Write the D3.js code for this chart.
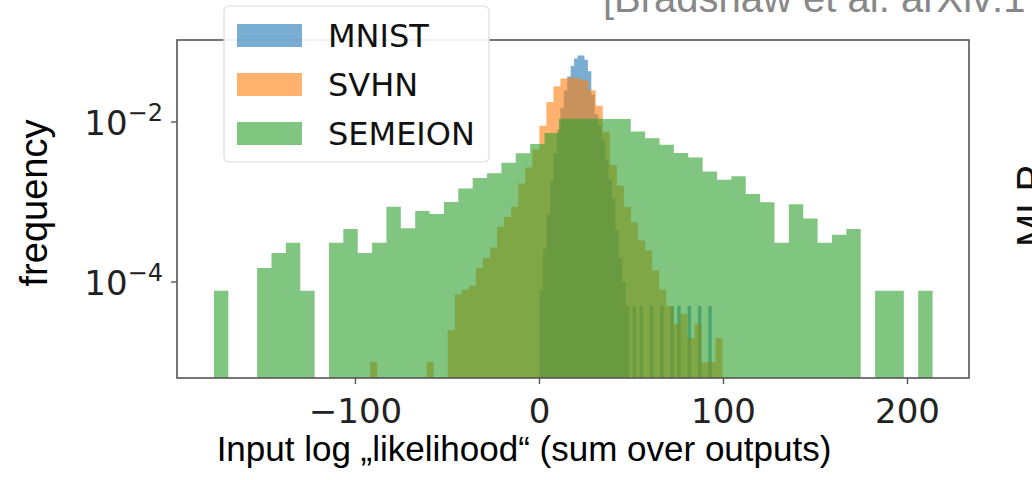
<html>
<head>
	<title>Input log likelihood histogram</title>
	<style type="text/css">
		body{
			margin: 0;
			background-color: #fff;
		}
		svg{
			display: block;
		}
		.tick text{
			font-family: "DejaVu Sans", sans-serif;
			font-size: 34px;
			fill: #222;
		}
		.axisLabel{
			font-family: "Liberation Sans", Arial, sans-serif;
			font-size: 35px;
			fill: #000;
		}
		.legendText{
			font-family: "DejaVu Sans", sans-serif;
			font-size: 32px;
			fill: #111;
		}
	</style>
	<script type="text/javascript" src="https://d3js.org/d3.v7.min.js"></script>
</head>
<body>
<div id="chart"></div>

<script type="text/javascript">
	// series names + colours (matplotlib defaults)
	var seriesNames = ['MNIST', 'SVHN', 'SEMEION'];
	var seriesColors = ['#1f77b4', '#ff7f0e', '#2ca02c'];

	// bin start and bin width, in log-likelihood units
	var mnistStart = 0.4, mnistWidth = 1.87;
	var svhnStart = -91.7, svhnWidth = 3.83;
	var semeionStart = -176.6, semeionWidth = 7.81;

	// frequency per bin
	var mnistFreq = [8e-5, 2.6e-4, 7e-4, 1.8e-3, 4.0e-3, 8.0e-3, 0.015, 0.025, 0.037, 0.050,
		0.062, 0.068, 0.068, 0.060, 0.043, 0.022, 0.0125, 0.009, 0.006, 0.0034,
		0.0019, 0.0011, 4.5e-4, 2.0e-4, 1.0e-4, 5e-5, 0, 5e-5, 0, 5e-5,
		0, 0, 5e-5, 0, 0, 5e-5, 0, 0, 5e-5, 0,
		5e-5, 0, 0, 5e-5, 0, 0, 5e-5, 0, 0, 5e-5];

	var svhnFreq = [1e-5, 0, 0, 0, 0, 0, 0, 0, 1e-5, 0,
		0, 2.5e-5, 7e-5, 8e-5, 9e-5, 1.5e-4, 2.0e-4, 2.7e-4, 4.9e-4, 6.5e-4,
		8.7e-4, 1.7e-3, 2.7e-3, 4.5e-3, 9.0e-3, 0.0178, 0.028, 0.035, 0.036, 0.035,
		0.033, 0.025, 0.016, 7.5e-3, 2.9e-3, 1.6e-3, 8.7e-4, 5.6e-4, 3.3e-4, 2.5e-4,
		1.4e-4, 8e-5, 5e-5, 3e-5, 4e-5, 2e-5, 3e-5, 1e-5, 1e-5, 2e-5];

	var semeionFreq = [7.8e-5, 0, 0, 1.5e-4, 2.3e-4, 3.1e-4, 7.8e-5, 0, 3.1e-4, 4.6e-4,
		2.3e-4, 3.1e-4, 8.7e-4, 4.7e-4, 7.7e-4, 7.1e-4, 1.0e-3, 1.48e-3, 2.0e-3, 2.28e-3,
		3.1e-3, 4.07e-3, 5.3e-3, 7.3e-3, 0.011, 0.011, 0.011, 0.0109, 0.0109, 7.6e-3,
		6.25e-3, 5.2e-3, 4.1e-3, 3.6e-3, 2.4e-3, 1.9e-3, 2.1e-3, 1.26e-3, 9.9e-4, 3.1e-4,
		9.4e-4, 6.2e-4, 3.1e-4, 3.9e-4, 4.6e-4, 0, 7.8e-5, 7.8e-5, 0, 7.8e-5];

	var xTicks = [-100, 0, 100, 200];
	var yTicks = [1e-2, 1e-4];
	var yTickExp = ['\u22122', '\u22124'];

	var width = 1032, height = 480;
	var plotLeft = 177, plotRight = 969, plotTop = 40, plotBottom = 378;

	var svg = d3.select('#chart')
		.append('svg')
		.attr('width', width)
		.attr('height', height);

	var xScale = d3.scaleLinear()
		.domain([-196.7, 233.7])
		.range([plotLeft, plotRight]);
	var yScale = d3.scaleLog()
		.domain([Math.pow(10, -5.2), Math.pow(10, -0.975)])
		.range([plotBottom, plotTop]);

	function toSteps(freq, start, w){
		var pts = freq.map(function(f, i){ return {x: start + i * w, f: f}; });
		pts.push({x: start + freq.length * w, f: freq[freq.length - 1]});
		return pts;
	}

	var floorY = yScale.range()[0];
	var area = d3.area()
		.curve(d3.curveStepAfter)
		.x(function(d){ return xScale(d.x); })
		.y0(floorY)
		.y1(function(d){ return d.f > 0 ? yScale(d.f) : floorY; });

	var series = [
		toSteps(mnistFreq, mnistStart, mnistWidth),
		toSteps(svhnFreq, svhnStart, svhnWidth),
		toSteps(semeionFreq, semeionStart, semeionWidth)
	];

	svg.append('clipPath').attr('id', 'plotClip')
		.append('rect')
		.attr('x', plotLeft).attr('y', plotTop)
		.attr('width', plotRight - plotLeft).attr('height', plotBottom - plotTop);

	svg.append('g')
		.attr('clip-path', 'url(#plotClip)')
		.selectAll('path')
		.data(series)
		.enter()
		.append('path')
		.attr('d', area)
		.attr('fill', function(d, i){ return seriesColors[i]; })
		.attr('fill-opacity', 0.6)
		.attr('stroke', 'none');

	// frame
	svg.append('rect')
		.attr('x', plotLeft).attr('y', plotTop)
		.attr('width', plotRight - plotLeft).attr('height', plotBottom - plotTop)
		.attr('fill', 'none')
		.attr('stroke', '#555')
		.attr('stroke-width', 1.6);

	var xAxis = d3.axisBottom(xScale)
		.tickValues(xTicks)
		.tickSizeInner(6)
		.tickSizeOuter(0)
		.tickPadding(8)
		.tickFormat(function(d){ return d < 0 ? '\u2212' + Math.abs(d) : d; });

	var xAxisG = svg.append('g')
		.attr('transform', 'translate(0,' + plotBottom + ')')
		.call(xAxis);
	xAxisG.select('.domain').remove();
	xAxisG.selectAll('.tick line').attr('stroke', '#555').attr('stroke-width', 1.4);
	xAxisG.selectAll('.tick text').attr('dy', '0.9em');

	var yAxisG = svg.append('g')
		.attr('transform', 'translate(' + plotLeft + ',0)');
	yTicks.forEach(function(t, i){
		var g = yAxisG.append('g').attr('class', 'tick')
			.attr('transform', 'translate(0,' + yScale(t) + ')');
		g.append('line')
			.attr('x1', -6).attr('x2', 0)
			.attr('stroke', '#555').attr('stroke-width', 1.4);
		var txt = g.append('text')
			.attr('x', -14)
			.attr('y', 13)
			.attr('text-anchor', 'end');
		txt.append('tspan').text('10');
		txt.append('tspan')
			.attr('dy', -14)
			.style('font-size', '24px')
			.text(yTickExp[i]);
	});

	svg.append('text')
		.attr('class', 'axisLabel')
		.attr('x', 524)
		.attr('y', 461)
		.attr('text-anchor', 'middle')
		.text('Input log \u201elikelihood\u201c (sum over outputs)');

	svg.append('text')
		.attr('class', 'axisLabel')
		.attr('transform', 'translate(47,203) rotate(-90)')
		.attr('text-anchor', 'middle')
		.style('font-size', '38px')
		.text('frequency');

	// legend
	var legend = svg.append('g');
	legend.append('rect')
		.attr('x', 224).attr('y', 6)
		.attr('width', 265).attr('height', 156)
		.attr('rx', 5)
		.attr('fill', '#fff')
		.attr('fill-opacity', 0.9)
		.attr('stroke', '#ddd')
		.attr('stroke-width', 1.2);

	seriesNames.forEach(function(name, i){
		var y = 24 + i * 49;
		legend.append('rect')
			.attr('x', 237).attr('y', y)
			.attr('width', 65).attr('height', 23)
			.attr('fill', seriesColors[i])
			.attr('fill-opacity', 0.6);
		legend.append('text')
			.attr('class', 'legendText')
			.attr('x', 328).attr('y', y + 23)
			.text(name);
	});

	// bits of the slide around the chart
	svg.append('text')
		.attr('x', 603).attr('y', 12)
		.style('font-family', '"Liberation Sans", Arial, sans-serif')
		.style('font-size', '40px')
		.attr('fill', '#888')
		.text('[Bradshaw et al. arXiv:1707.02198]');

	svg.append('text')
		.attr('transform', 'translate(1045,247) rotate(-90)')
		.style('font-family', '"Liberation Sans", Arial, sans-serif')
		.style('font-size', '40px')
		.attr('fill', '#111')
		.text('MLP');
</script>
</body>
</html>
